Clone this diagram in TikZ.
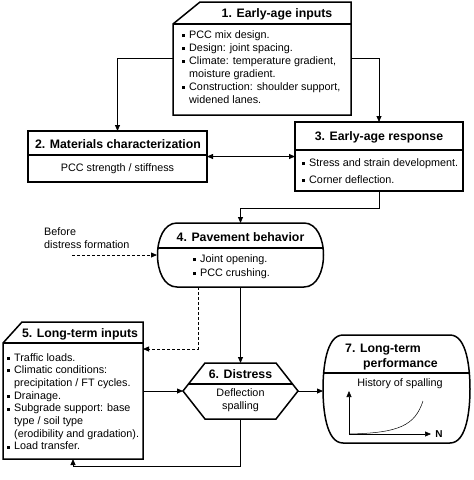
\documentclass[tikz,border=0pt]{standalone}
\usepackage{fontspec}
\setmainfont{Liberation Sans}
\usetikzlibrary{arrows.meta}

\newcommand{\bul}{\rule[1.3pt]{3pt}{3pt}}
\newenvironment{bullets}{\begin{tabular}{@{}l@{\hspace{4pt}}l@{}}}{\end{tabular}}

\begin{document}
\begin{tikzpicture}[x=1pt, y=-1pt, font=\fontsize{10.8}{13}\selectfont]
    % Styles
    \tikzstyle{frame} = [rectangle, inner sep=0pt, outer sep=0pt]
    \tikzstyle{outline} = [line width=1.5pt, line join=miter]
    \tikzstyle{title} = [font=\fontsize{12.3}{15}\selectfont\bfseries, inner sep=0pt]
    \tikzstyle{body} = [align=left, inner sep=0pt, anchor=north west]
    \tikzstyle{arrow} = [line width=0.8pt, -{Triangle[length=6pt, width=5pt]}]
    \tikzstyle{dblarrow} = [line width=0.8pt, {Triangle[length=6pt, width=5pt]}-{Triangle[length=6pt, width=5pt]}]
    \tikzstyle{dasharrow} = [arrow, dash pattern=on 3pt off 2pt]

    \useasboundingbox (0,0) rectangle (474,480);

    % Nodes
    \node[frame, minimum width=178, minimum height=113] (early) at (262,58.5) {};
    \node[frame, minimum width=179, minimum height=51] (mat) at (117.5,156.5) {};
    \node[frame, minimum width=168, minimum height=69] (resp) at (379,156.5) {};
    \node[frame, minimum width=167, minimum height=64] (pave) at (240.5,255) {};
    \node[frame, minimum width=140, minimum height=137] (long) at (73,390.5) {};
    \node[frame, minimum width=115, minimum height=56] (dist) at (240.5,391) {};
    \node[frame, minimum width=147, minimum height=108] (perf) at (396.5,389) {};

    % Outlines
    \draw[outline] ([yshift=-22]early.north west) -- ([xshift=27]early.north west) -- (early.north east)
        -- (early.south east) -- (early.south west) -- cycle;
    \draw[outline] ([yshift=-22]early.north west) -- ([yshift=-22]early.north east);
    \draw[outline] (mat.north west) rectangle (mat.south east);
    \draw[outline] ([yshift=-24]mat.north west) -- ([yshift=-24]mat.north east);
    \draw[outline] (resp.north west) rectangle (resp.south east);
    \draw[outline] ([yshift=-28]resp.north west) -- ([yshift=-28]resp.north east);
    \draw[outline] ([xshift=20]pave.north west) -- ([xshift=-20]pave.north east)
        .. controls ([xshift=6]pave.north east) and ([xshift=6]pave.south east) .. ([xshift=-20]pave.south east)
        -- ([xshift=20]pave.south west)
        .. controls ([xshift=-6]pave.south west) and ([xshift=-6]pave.north west) .. ([xshift=20]pave.north west) -- cycle;
    \draw[outline] ([xshift=1,yshift=-25]pave.north west) -- ([xshift=-1,yshift=-25]pave.north east);
    \draw[outline] ([yshift=-21]long.north west) -- ([xshift=19]long.north west) -- (long.north east)
        -- (long.south east) -- (long.south west) -- cycle;
    \draw[outline] ([yshift=-21]long.north west) -- ([yshift=-21]long.north east);
    \draw[outline] ([xshift=22]dist.north west) -- ([xshift=-22]dist.north east) -- (dist.east)
        -- ([xshift=-22]dist.south east) -- ([xshift=22]dist.south west) -- (dist.west) -- cycle;
    \draw[outline] ([xshift=5.5,yshift=7]dist.west) -- ([xshift=-5.5,yshift=7]dist.east);
    \draw[outline] ([xshift=20]perf.north west) -- ([xshift=-20]perf.north east)
        .. controls ([xshift=-3]perf.north east) and ([yshift=20]perf.east) .. (perf.east)
        .. controls ([yshift=-20]perf.east) and ([xshift=-3]perf.south east) .. ([xshift=-20]perf.south east)
        -- ([xshift=20]perf.south west)
        .. controls ([xshift=3]perf.south west) and ([yshift=-20]perf.west) .. (perf.west)
        .. controls ([yshift=20]perf.west) and ([xshift=3]perf.north west) .. ([xshift=20]perf.north west) -- cycle;
    \draw[outline] ([xshift=1,yshift=-38]perf.north west) -- ([xshift=-1,yshift=-38]perf.north east);

    % Texts
    \node[title] (early-t) at (277,14) {1. Early-age inputs};
    \node[body] (early-b) at (182,29) {\begin{bullets}
        \bul & PCC mix design.\\
        \bul & Design: joint spacing.\\
        \bul & Climate: temperature gradient,\\
             & moisture gradient.\\
        \bul & Construction: shoulder support,\\
             & widened lanes.
        \end{bullets}};
    \node[title] (mat-t) at (118,144) {2. Materials characterization};
    \node[inner sep=0pt] (mat-b) at (117.5,169) {PCC strength / stiffness};
    \node[title] (resp-t) at (379,137) {3. Early-age response};
    \node[body] (resp-b) at (302,157) {\begin{bullets}
        \bul & Stress and strain development.\\[4pt]
        \bul & Corner deflection.
        \end{bullets}};
    \node[title] (pave-t) at (240.5,237) {4. Pavement behavior};
    \node[body] (pave-b) at (193,253) {\begin{bullets}
        \bul & Joint opening.\\[1pt]
        \bul & PCC crushing.
        \end{bullets}};
    \node[title] (long-t) at (80,334) {5. Long-term inputs};
    \node[body, font=\fontsize{10.8}{12.7}\selectfont] (long-b) at (7,352) {\begin{bullets}
        \bul & Traffic loads.\\
        \bul & Climatic conditions:\\
             & precipitation / FT cycles.\\
        \bul & Drainage.\\
        \bul & Subgrade support: base\\
             & type / soil type\\
             & (erodibility and gradation).\\
        \bul & Load transfer.
        \end{bullets}};
    \node[title] (dist-t) at (240.5,374) {6. Distress};
    \node[align=center, inner sep=0pt, font=\fontsize{10.8}{12.5}\selectfont] (dist-b) at (240.5,400) {Deflection\\spalling};
    \node[title, align=left, anchor=north west] (perf-t) at (345,344) {7. Long-term\\\makebox[18pt]{}performance};
    \node[inner sep=0pt] (perf-b) at (400,384) {History of spalling};
    \node[body] (before) at (44,227) {Before\\distress formation};
    \coordinate (bf) at (72,255);
    \coordinate (orig) at (349,434);
    \node[font=\bfseries, inner sep=0pt] (nlab) at (439,434) {N};

    % Arrows
    \draw[arrow] (early.west) -| (mat.north);
    \draw[arrow] (early.east) -| (resp.north);
    \draw[dblarrow] (mat.east) -- (resp.west);
    \draw[arrow] (resp.south) -- ++(0,17) -| (pave.north);
    \draw[dasharrow] (bf) -- (pave.west);
    \draw[dasharrow] ([xshift=-42.5]pave.south) |- ([yshift=-27]long.north east);
    \draw[arrow] (pave.south) -- (dist.north);
    \draw[arrow] (long.east |- dist.west) -- (dist.west);
    \draw[arrow] (dist.east) -- (dist.east -| perf.west);
    \draw[arrow] (dist.south) -- ++(0,47) -| (long.south);

    % Plot
    \draw[arrow, line width=0.6pt] (orig) -- ++(0,-43);
    \draw[arrow, line width=0.6pt] (orig) -- ++(82,0);
    \draw[line width=0.5pt] (orig) .. controls (400,433) and (415,425) .. (423,401);
\end{tikzpicture}
\end{document}
